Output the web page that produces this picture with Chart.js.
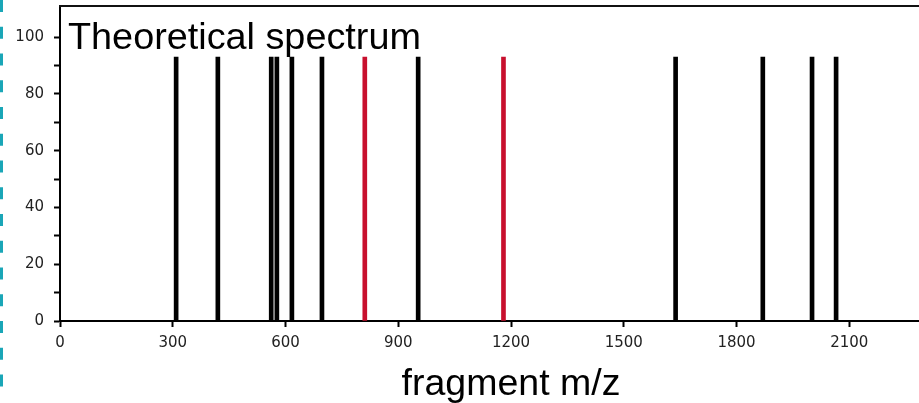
<!DOCTYPE html>
<html>
<head>
<meta charset="utf-8">
<script src="https://cdn.jsdelivr.net/npm/chart.js@4/dist/chart.umd.min.js"></script>
<style>
  html, body { margin: 0; padding: 0; background: #fff; }
  #wrap { width: 919px; height: 403px; overflow: hidden; position: relative; }
  canvas { display: block; }
</style>
</head>
<body>
<div id="wrap"><canvas id="c" width="964" height="403"></canvas></div>
<script>
// Data
const blackPeaks = [309, 420, 562, 577, 617, 697, 953, 1638, 1870, 2001, 2065];
const redPeaks = [811, 1180];
const peakIntensity = 93;
const xTickValues = [0, 300, 600, 900, 1200, 1500, 1800, 2100];
const yTickValues = [0, 10, 20, 30, 40, 50, 60, 70, 80, 90, 100];
const yLabelValues = [0, 20, 40, 60, 80, 100];
const chartTitle = 'Theoretical spectrum';
const xAxisTitle = 'fragment m/z';

const blackData = blackPeaks.map(m => ({ x: m, y: peakIntensity }));
const redData = redPeaks.map(m => ({ x: m, y: peakIntensity }));

const decor = {
  id: 'decor',
  beforeDraw(chart) {
    const ctx = chart.ctx;
    ctx.save();
    ctx.strokeStyle = '#1aa6b7';
    ctx.lineWidth = 3;
    ctx.setLineDash([12, 14.75]);
    ctx.beginPath();
    ctx.moveTo(1.5, 0);
    ctx.lineTo(1.5, 388);
    ctx.stroke();
    ctx.restore();
  },
  afterDraw(chart) {
    const ctx = chart.ctx;
    const a = chart.chartArea;
    ctx.save();
    ctx.strokeStyle = '#111';
    ctx.lineWidth = 2;
    ctx.beginPath();
    ctx.moveTo(a.left - 1, a.top);
    ctx.lineTo(a.right, a.top);
    ctx.stroke();
    ctx.fillStyle = '#000';
    ctx.textBaseline = 'alphabetic';
    ctx.textAlign = 'left';
    ctx.font = '37.8px "Liberation Sans", Arial, sans-serif';
    ctx.fillText(chartTitle, a.left + 8, 49);
    ctx.textAlign = 'center';
    ctx.font = '37.5px "Liberation Sans", Arial, sans-serif';
    ctx.fillText(xAxisTitle, (a.left + a.right) / 2, 395);
    ctx.restore();
  }
};

new Chart(document.getElementById('c'), {
  type: 'bar',
  data: {
    datasets: [
      { data: blackData, backgroundColor: '#000', barThickness: 4, borderWidth: 0 },
      { data: redData, backgroundColor: '#c8102e', barThickness: 4, borderWidth: 0 }
    ]
  },
  options: {
    responsive: false,
    animation: false,
    events: [],
    layout: { padding: { top: 6, right: 2, left: 0, bottom: 0 } },
    plugins: { legend: { display: false }, tooltip: { enabled: false }, title: { display: false } },
    datasets: { bar: { grouped: false } },
    scales: {
      x: {
        type: 'linear',
        offset: false,
        min: 0,
        max: 2400,
        afterBuildTicks(scale) { scale.ticks = xTickValues.map(v => ({ value: v })); },
        afterFit(scale) { scale.height = 82; scale.paddingLeft = 0; scale.paddingRight = 0; },
        grid: { offset: false, drawOnChartArea: false, drawTicks: true, tickLength: 6, tickWidth: 2, tickColor: '#000' },
        border: { display: true, color: '#000', width: 2 },
        ticks: {
          color: '#222',
          padding: 7,
          maxRotation: 0,
          autoSkip: false,
          font: { family: '"DejaVu Sans", Verdana, sans-serif', size: 15 },
          callback: (v) => String(v)
        }
      },
      y: {
        min: 0,
        max: 111,
        afterBuildTicks(scale) { scale.ticks = yTickValues.map(v => ({ value: v })); },
        afterFit(scale) { scale.width = 60; scale.paddingTop = 0; scale.paddingBottom = 0; },
        grid: { drawOnChartArea: false, drawTicks: true, tickLength: 6, tickWidth: 2, tickColor: '#000' },
        border: { display: true, color: '#000', width: 2 },
        ticks: {
          color: '#222',
          padding: 10,
          autoSkip: false,
          font: { family: '"DejaVu Sans", Verdana, sans-serif', size: 15 },
          callback: (v) => yLabelValues.includes(v) ? String(v) : ''
        }
      }
    }
  },
  plugins: [decor]
});
</script>
</body>
</html>
